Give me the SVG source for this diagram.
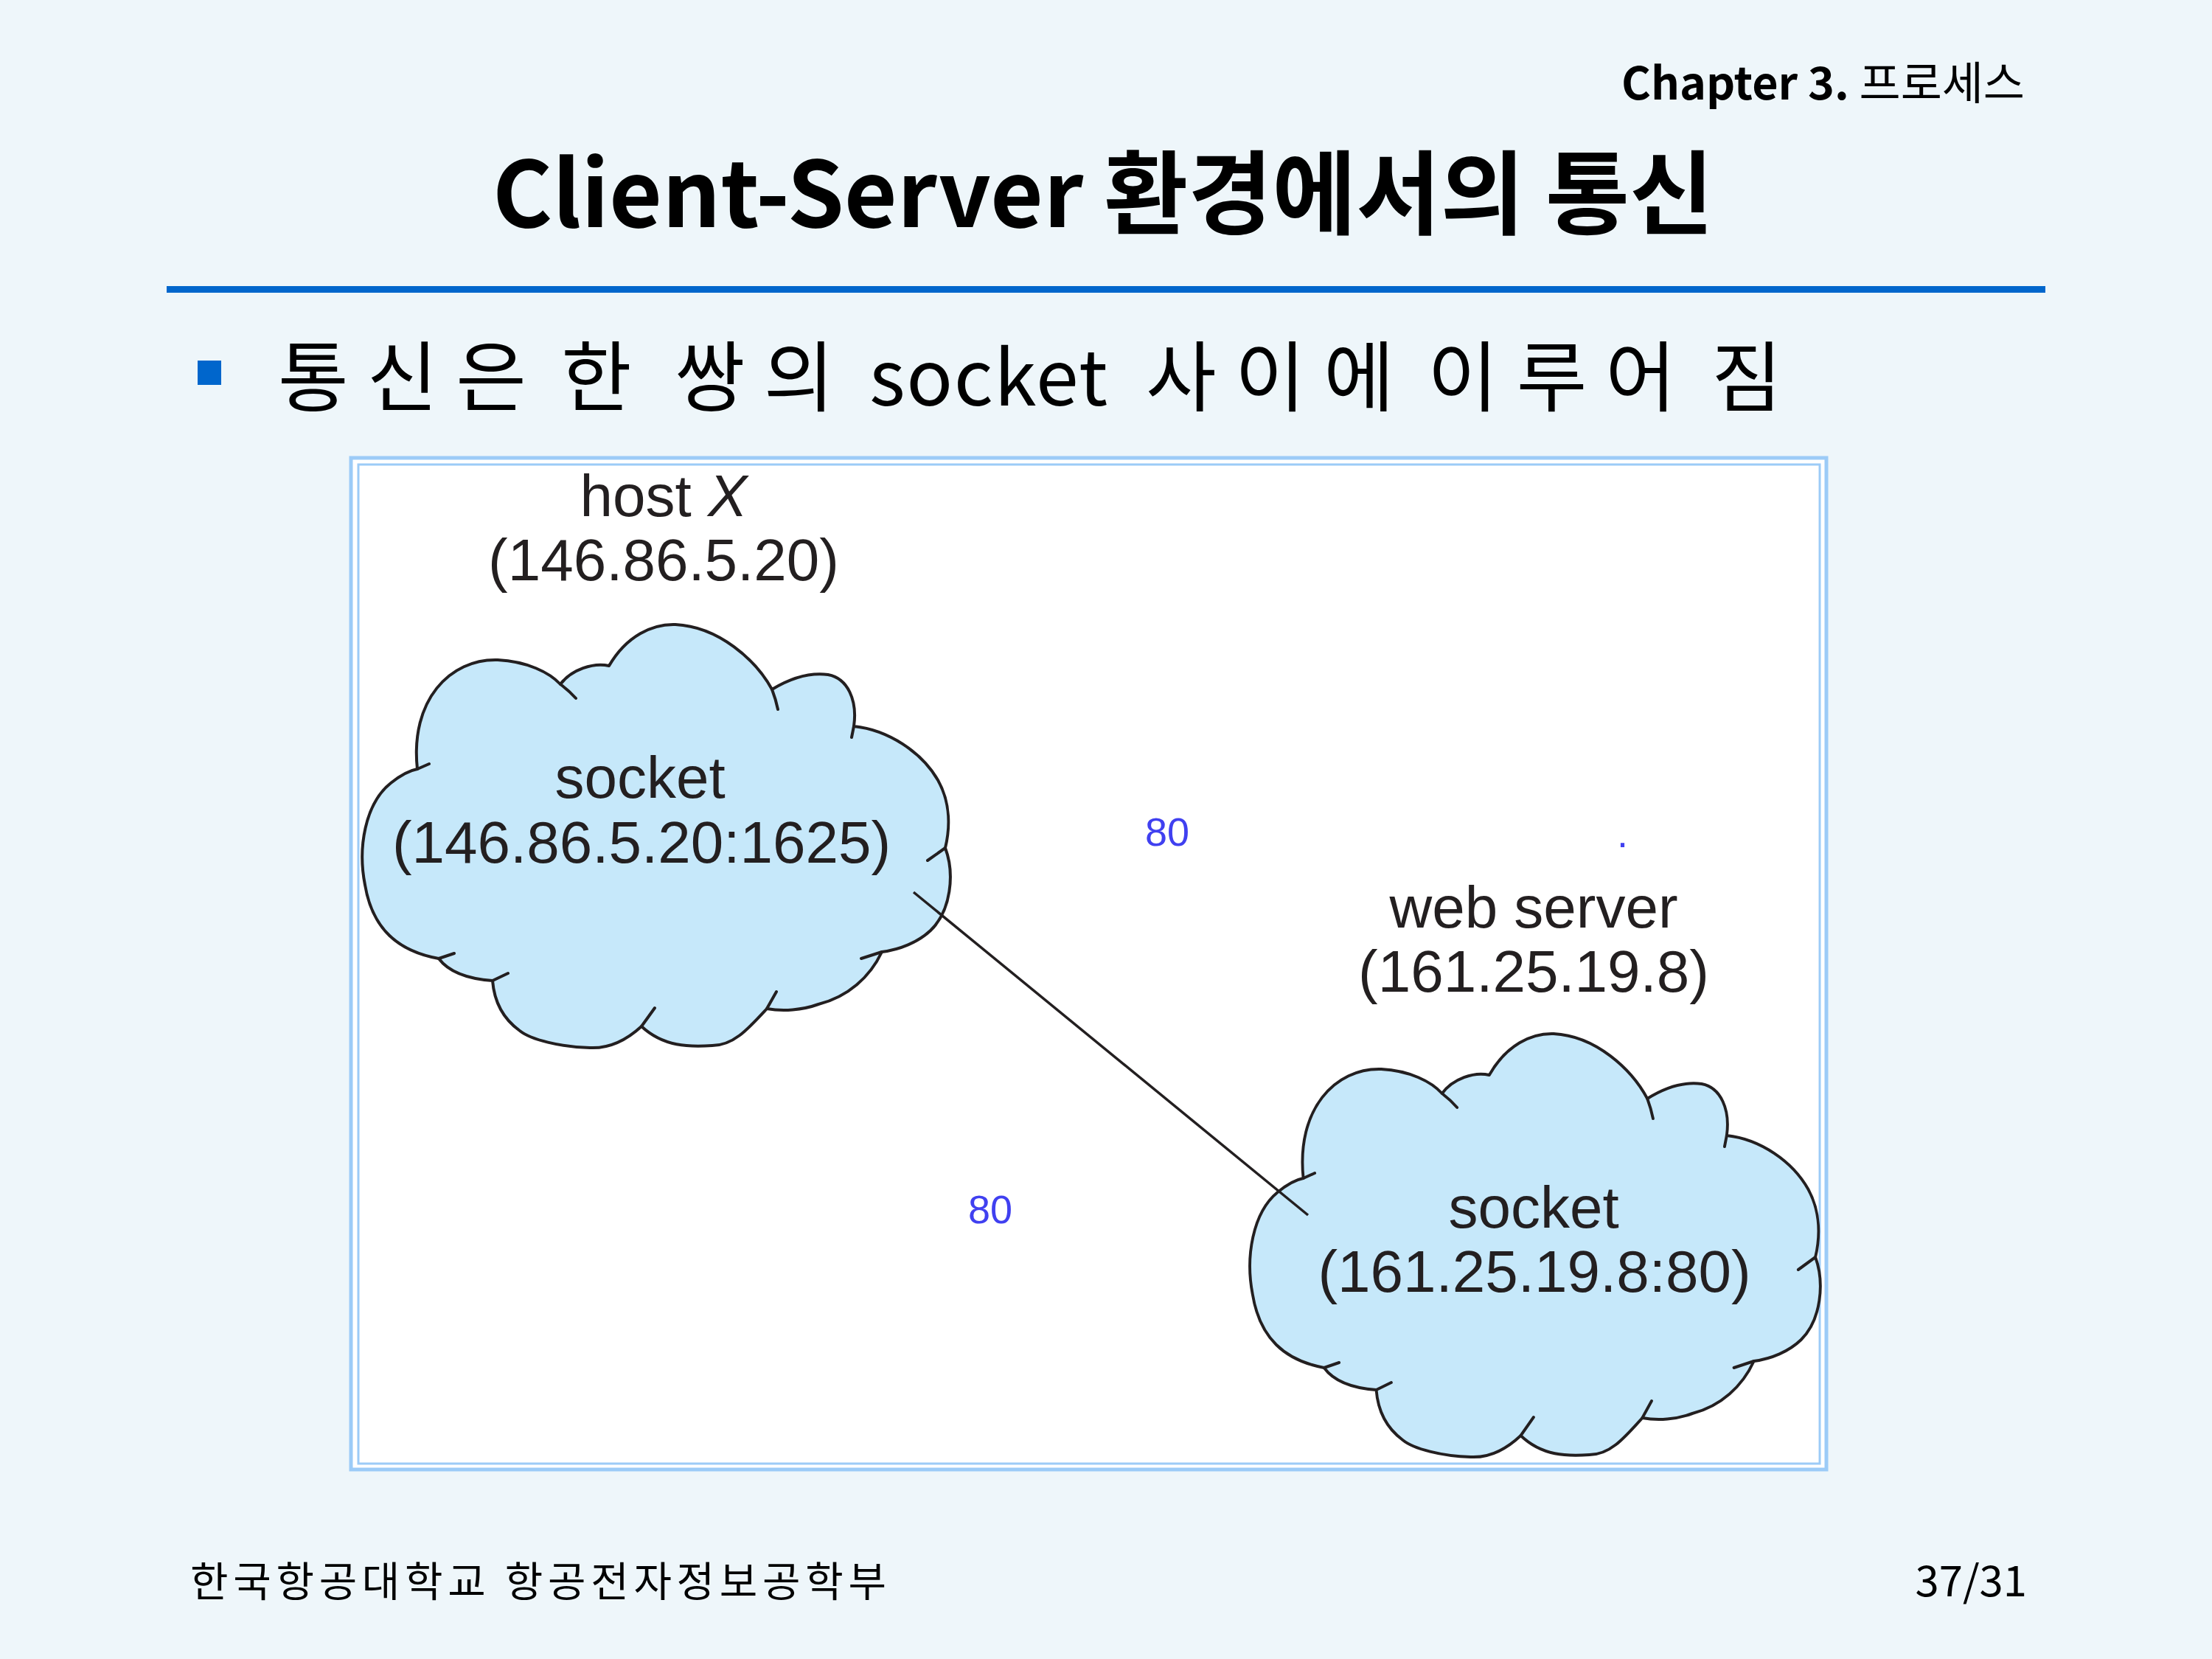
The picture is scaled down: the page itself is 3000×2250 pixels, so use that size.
<svg xmlns="http://www.w3.org/2000/svg" xmlns:xlink="http://www.w3.org/1999/xlink" width="3000" height="2250" viewBox="0 0 3000 2250">
<style>
.kr{font-family:"Noto Sans CJK KR","Noto Sans",sans-serif;fill:#000}
.lbl{font-family:"Liberation Sans",Arial,sans-serif;fill:#231F20;font-size:80px;text-anchor:middle}
.num{font-family:"Liberation Sans",Arial,sans-serif;fill:#4040F0;font-size:54px}
.cl{fill:#C6E8FA;stroke:none}
.co{fill:none;stroke:#231F20;stroke-width:4;stroke-linecap:round;stroke-linejoin:round}
.frame{fill:none;stroke:#9CCBF7}
.ks{letter-spacing:25px}
</style>
<defs>
<path id="cloudFill" d="M566,1043 C556,950 610,893 675,895 C715,897 745,912 760,928 C775,908 805,898 826,903 C850,862 885,846 916,847 C975,850 1025,895 1047,935 C1075,918 1100,912 1123,915 C1150,920 1163,950 1158,985 C1205,990 1250,1020 1272,1058 C1290,1090 1288,1125 1282,1150 C1295,1185 1290,1235 1262,1262 C1245,1278 1220,1288 1196,1291 C1180,1325 1150,1352 1110,1362 C1088,1370 1062,1372 1040,1368 C1015,1395 995,1418 966,1418 C935,1420 900,1420 870,1392 C845,1415 820,1422 800,1421 C760,1420 720,1410 705,1398 C680,1380 670,1355 668,1330 C640,1328 610,1320 595,1300 C540,1290 505,1260 495,1200 C485,1150 495,1090 530,1062 C545,1050 555,1045 566,1043 Z"/>
<g id="cloud">
<use xlink:href="#cloudFill" class="cl"/>
<use xlink:href="#cloudFill" class="co"/>
<path class="co" d="M760,928 Q772,937 781,947 M1047,935 Q1052,948 1055,962 M1158,985 L1155,1000 M1282,1150 L1258,1167 M1196,1291 L1168,1300 M1040,1368 L1053,1345 M870,1392 L888,1367 M668,1330 L689,1320 M595,1300 L616,1293 M566,1043 L582,1036"/>
</g>
</defs>
<rect x="0" y="0" width="3000" height="2250" fill="#EEF6FA"/>
<g id="header">
<text class="kr" x="2746" y="135" font-size="61" text-anchor="end"><tspan font-weight="bold">Chapter 3.</tspan> 프로세스</text>
<text class="kr" x="1496" y="308" font-size="124" font-weight="bold" text-anchor="middle">Client-Server 환경에서의 통신</text>
<rect x="226" y="388" width="2548" height="9" fill="#0066CC"/>
<rect x="268" y="489" width="32" height="33" fill="#0066CC"/>
<text class="kr" y="550" font-size="104"><tspan class="ks" x="377">통신은</tspan><tspan x="761">한</tspan><tspan class="ks" x="915">쌍의</tspan><tspan x="1179" letter-spacing="1.5">socket</tspan><tspan class="ks" x="1554">사이에</tspan><tspan class="ks" x="1936">이루어</tspan><tspan x="2321">짐</tspan></text>
</g>
<g id="frame">
<rect x="476" y="621" width="2001" height="1372" fill="#FFFFFF" stroke="#9CCBF7" stroke-width="5"/>
<rect x="486" y="630" width="1982" height="1355" class="frame" stroke-width="3"/>
</g>
<g id="hostX">
<use xlink:href="#cloud"/>
<text class="lbl" x="900" y="700" font-size="79">host <tspan font-style="italic">X</tspan></text>
<text class="lbl" x="900" y="787" font-size="80">(146.86.5.20)</text>
<text class="lbl" x="868" y="1082">socket</text>
<text class="lbl" x="870" y="1170" font-size="82">(146.86.5.20:1625)</text>
</g>
<g id="webServer">
<use xlink:href="#cloud" transform="translate(1690,1401) scale(0.97,1.0) translate(-486,-846)"/>
<text class="lbl" x="2080" y="1258">web server</text>
<text class="lbl" x="2080" y="1345" font-size="82">(161.25.19.8)</text>
<text class="lbl" x="2080" y="1665">socket</text>
<text class="lbl" x="2081" y="1752" font-size="82">(161.25.19.8:80)</text>
</g>
<g id="connectors">
<line x1="1239" y1="1210" x2="1774" y2="1648" stroke="#231F20" stroke-width="3.5"/>
</g>
<g id="ports">
<text class="num" x="1553" y="1147">80</text>
<text class="num" x="1313" y="1659">80</text>
<text class="num" x="2193" y="1149">.</text>
</g>
<g id="footer">
<text class="kr" x="258" y="2165" font-size="56" textLength="944" lengthAdjust="spacing">한국항공대학교 항공전자정보공학부</text>
<text class="kr" x="2749" y="2165" font-size="58" text-anchor="end">37/31</text>
</g>
</svg>
